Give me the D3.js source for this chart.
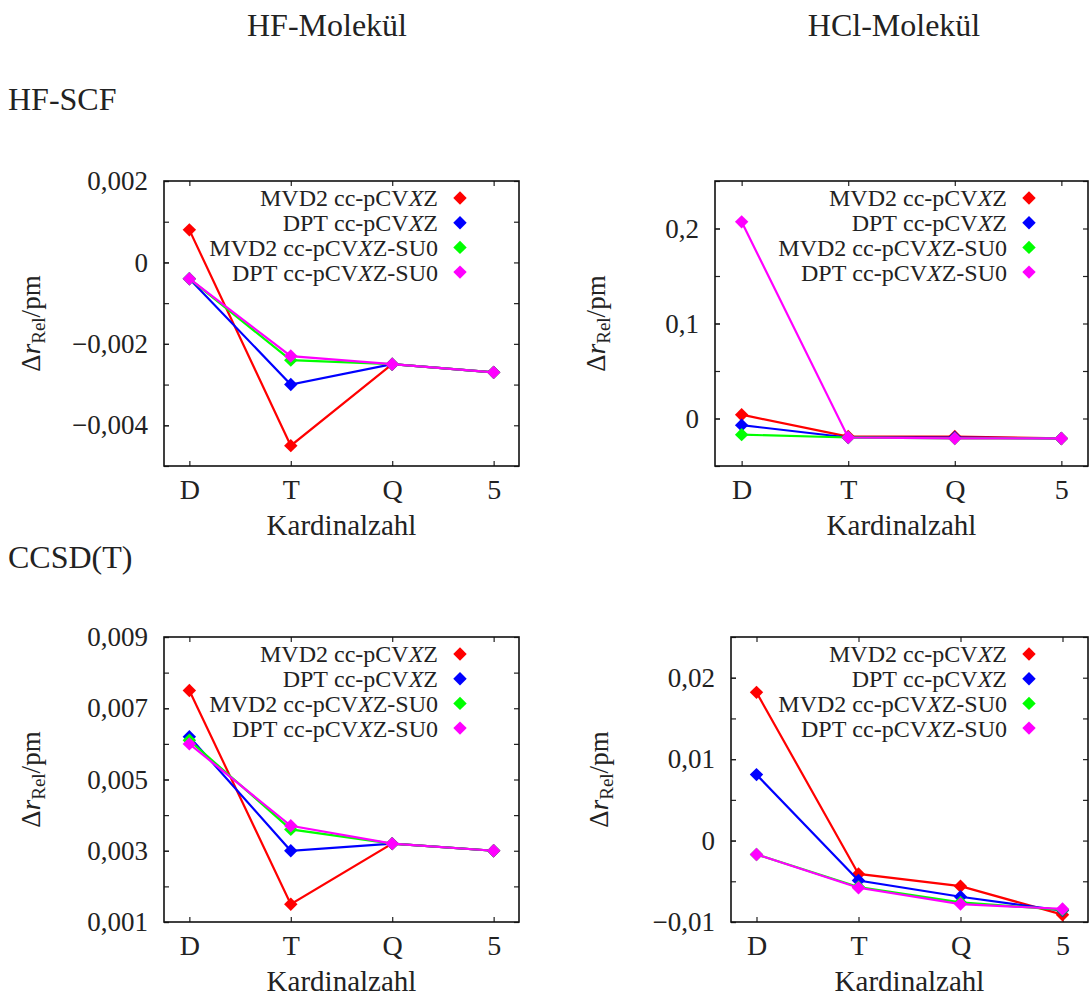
<!DOCTYPE html>
<html>
<head>
<meta charset="utf-8">
<script src="https://cdn.jsdelivr.net/npm/d3@7"></script>
<style>
  body { margin: 0; background: #fff; }
</style>
</head>
<body>
<script>
// Categories (cardinal number of the basis set)
const cardinals = ['D', 'T', 'Q', '5'];

// Series labels, {X} is set in italics
const seriesLabels = ['MVD2 cc-pCV{X}Z', 'DPT cc-pCV{X}Z', 'MVD2 cc-pCV{X}Z-SU0', 'DPT cc-pCV{X}Z-SU0'];
const seriesColors = ['#ff0000', '#0000ff', '#00ff00', '#ff00ff'];

// HF-SCF, HF molecule
const hfScfMvd2 = [0.0008, -0.0045, -0.0025, -0.0027];
const hfScfDpt = [-0.0004, -0.0030, -0.0025, -0.0027];
const hfScfMvd2Su0 = [-0.0004, -0.0024, -0.0025, -0.0027];
const hfScfDptSu0 = [-0.0004, -0.0023, -0.0025, -0.0027];

// HF-SCF, HCl molecule
const hclScfMvd2 = [0.004, -0.019, -0.019, -0.021];
const hclScfDpt = [-0.007, -0.020, -0.020, -0.021];
const hclScfMvd2Su0 = [-0.017, -0.020, -0.021, -0.021];
const hclScfDptSu0 = [0.207, -0.020, -0.021, -0.021];

// CCSD(T), HF molecule
const hfCcMvd2 = [0.0075, 0.0015, 0.0032, 0.0030];
const hfCcDpt = [0.0062, 0.0030, 0.0032, 0.0030];
const hfCcMvd2Su0 = [0.0061, 0.0036, 0.0032, 0.0030];
const hfCcDptSu0 = [0.0060, 0.0037, 0.0032, 0.0030];

// CCSD(T), HCl molecule
const hclCcMvd2 = [0.0182, -0.0041, -0.0056, -0.0091];
const hclCcDpt = [0.0081, -0.0049, -0.0069, -0.0086];
const hclCcMvd2Su0 = [-0.0017, -0.0057, -0.0076, -0.0085];
const hclCcDptSu0 = [-0.0017, -0.0058, -0.0078, -0.0084];

// Y tick labels per panel
const hfScfTicks = [-0.004, -0.002, 0, 0.002];
const hclScfTicks = [0, 0.1, 0.2];
const hfCcTicks = [0.001, 0.003, 0.005, 0.007, 0.009];
const hclCcTicks = [-0.01, 0, 0.01, 0.02];

const width = 1089, height = 999;
const FONT = '"Liberation Serif", "DejaVu Serif", serif';

const de = d3.formatLocale({ decimal: ',', thousands: '.', grouping: [3], currency: ['', ' €'], minus: '\u2212' });
const fmt = de.format('.4~f');

const svg = d3.select('body').append('svg')
    .attr('width', width)
    .attr('height', height)
    .attr('font-family', FONT);

// Headings
svg.append('text').attr('x', 327).attr('y', 36).attr('text-anchor', 'middle')
    .style('font-size', '32px').text('HF-Molekül');
svg.append('text').attr('x', 894).attr('y', 36).attr('text-anchor', 'middle')
    .style('font-size', '32px').text('HCl-Molekül');
svg.append('text').attr('x', 8).attr('y', 110).style('font-size', '32px').text('HF-SCF');
svg.append('text').attr('x', 8).attr('y', 568).style('font-size', '32px').text('CCSD(T)');

const panels = [
    { left: 164, right: 519, top: 181, bottom: 466, ylab: 40, domain: [-0.005, 0.002], ticks: hfScfTicks, minor: 0.001,
      series: [hfScfMvd2, hfScfDpt, hfScfMvd2Su0, hfScfDptSu0] },
    { left: 715, right: 1088, top: 181, bottom: 466, ylab: 605, domain: [-0.05, 0.25], ticks: hclScfTicks, minor: 0.05,
      series: [hclScfMvd2, hclScfDpt, hclScfMvd2Su0, hclScfDptSu0] },
    { left: 164, right: 519, top: 637, bottom: 922, ylab: 40, domain: [0.001, 0.009], ticks: hfCcTicks, minor: 0.001,
      series: [hfCcMvd2, hfCcDpt, hfCcMvd2Su0, hfCcDptSu0] },
    { left: 731, right: 1088, top: 637, bottom: 922, ylab: 608, domain: [-0.01, 0.025], ticks: hclCcTicks, minor: 0.005,
      series: [hclCcMvd2, hclCcDpt, hclCcMvd2Su0, hclCcDptSu0] }
];

const diamond = d3.symbol().type(d3.symbolDiamond2).size(115);

function labelParts(sel, label) {
    const [a, rest] = label.split('{X}');
    sel.append('tspan').text(a.replace(/ /g, '\u00a0'));
    sel.append('tspan').style('font-style', 'italic').text('X');
    sel.append('tspan').text(rest);
}

panels.forEach(p => {
    const x = d3.scalePoint().domain(cardinals).range([p.left, p.right]).padding(0.25);
    const y = d3.scaleLinear().domain(p.domain).range([p.bottom, p.top]);
    const minorTicks = d3.range(Math.round((p.domain[1] - p.domain[0]) / p.minor) + 1)
        .map(i => p.domain[0] + i * p.minor);

    const g = svg.append('g');

    // Minor ticks on left and right
    g.append('g').attr('transform', `translate(${p.left},0)`)
        .call(d3.axisLeft(y).tickValues(minorTicks).tickSize(-5).tickFormat(''));
    g.append('g').attr('transform', `translate(${p.right},0)`)
        .call(d3.axisRight(y).tickValues(minorTicks).tickSize(-5).tickFormat(''));

    // Major y axis with labels
    const yAxis = g.append('g').attr('transform', `translate(${p.left},0)`)
        .call(d3.axisLeft(y).tickValues(p.ticks).tickSize(-5).tickPadding(16).tickFormat(fmt));
    yAxis.selectAll('text').style('font-size', '27px');

    // X axis, bottom with labels, top mirrored
    const xAxis = g.append('g').attr('transform', `translate(0,${p.bottom})`)
        .call(d3.axisBottom(x).tickSize(-5).tickPadding(0));
    xAxis.selectAll('text').style('font-size', '28px').attr('dy', null).attr('y', 33);
    g.append('g').attr('transform', `translate(0,${p.top})`)
        .call(d3.axisTop(x).tickSize(-5).tickFormat(''));

    g.selectAll('.domain').remove();
    g.selectAll('.tick line').attr('stroke', '#222').attr('stroke-width', 1.2);

    // Frame
    g.append('rect')
        .attr('x', p.left).attr('y', p.top)
        .attr('width', p.right - p.left).attr('height', p.bottom - p.top)
        .attr('fill', 'none').attr('stroke', '#111').attr('stroke-width', 1.6);

    // X axis title
    g.append('text')
        .attr('x', (p.left + p.right) / 2).attr('y', p.bottom + 69)
        .attr('text-anchor', 'middle').style('font-size', '29px').text('Kardinalzahl');

    // Y axis title
    const yl = g.append('text')
        .attr('transform', `translate(${p.ylab},${(p.top + p.bottom) / 2}) rotate(-90)`)
        .attr('text-anchor', 'middle').style('font-size', '27px');
    yl.append('tspan').text('Δ');
    yl.append('tspan').style('font-style', 'italic').text('r');
    yl.append('tspan').attr('dy', 5).style('font-size', '19px').text('Rel');
    yl.append('tspan').attr('dy', -5).text('/pm');

    // Series
    const line = d3.line().x((d, i) => x(cardinals[i])).y(d => y(d));
    p.series.forEach((values, si) => {
        g.append('path')
            .datum(values)
            .attr('d', line)
            .attr('fill', 'none')
            .attr('stroke', seriesColors[si])
            .attr('stroke-width', 2.2);
        g.selectAll(null)
            .data(values)
            .enter()
            .append('path')
            .attr('d', diamond)
            .attr('transform', (d, i) => `translate(${x(cardinals[i])},${y(d)})`)
            .attr('fill', seriesColors[si]);
    });

    // Legend
    const legend = g.append('g');
    seriesLabels.forEach((label, si) => {
        const ly = p.top + 17 + si * 24.7;
        const t = legend.append('text')
            .attr('x', p.right - 81).attr('y', ly)
            .attr('dy', '0.35em')
            .attr('text-anchor', 'end')
            .style('font-size', '24px');
        labelParts(t, label);
        legend.append('path')
            .attr('d', diamond)
            .attr('transform', `translate(${p.right - 59},${ly})`)
            .attr('fill', seriesColors[si]);
    });
});

// Same serif face and ink colour for every label, axis texts included
svg.selectAll('text').style('font-family', FONT).attr('fill', '#222');
</script>
</body>
</html>
